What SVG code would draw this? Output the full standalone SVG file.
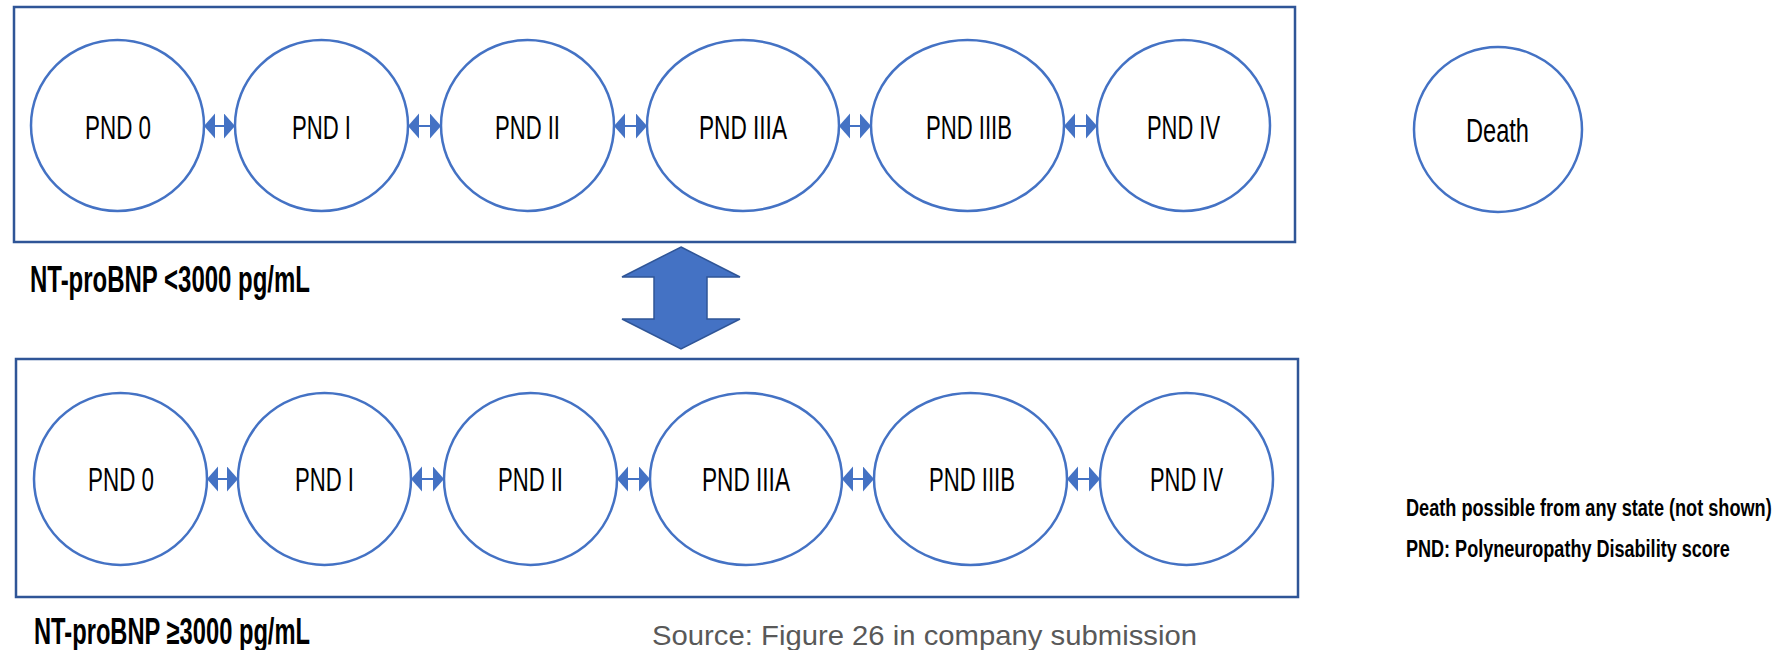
<svg xmlns="http://www.w3.org/2000/svg" width="1787" height="650" viewBox="0 0 1787 650">
<style>
.box{fill:none;stroke:#2F5597;stroke-width:2.5}
.st{fill:#fff;stroke:#4472C4;stroke-width:2.5}
.lbl{font-family:"Liberation Sans",Arial,sans-serif;font-size:33px;fill:#000;text-anchor:middle}
.grp{font-family:"Liberation Sans",Arial,sans-serif;font-size:36px;font-weight:bold;fill:#000}
.leg{font-family:"Liberation Sans",Arial,sans-serif;font-size:23px;font-weight:bold;fill:#000}
.src{font-family:"Liberation Sans",Arial,sans-serif;font-size:28px;fill:#595959}
.con{stroke:#4472C4;stroke-width:2;fill:none;marker-start:url(#ah);marker-end:url(#ah)}
</style>
<defs>
<marker id="ah" markerUnits="userSpaceOnUse" markerWidth="12" markerHeight="26" refX="11" refY="12.5" orient="auto-start-reverse">
<path d="M0,0 L11,12.5 L0,25 z" fill="#4472C4"/>
</marker>
</defs>
<rect width="1787" height="650" fill="#fff"/>

<g id="box-low">
<rect class="box" x="14" y="7" width="1281" height="235"/>
<text class="grp" x="30" y="292" textLength="280" lengthAdjust="spacingAndGlyphs">NT-proBNP &lt;3000 pg/mL</text>
</g>
<g id="box-high">
<rect class="box" x="16" y="359" width="1282" height="238"/>
<text class="grp" x="34" y="644" textLength="276" lengthAdjust="spacingAndGlyphs">NT-proBNP ≥3000 pg/mL</text>
</g>

<g id="connectors">
<line class="con" x1="204" y1="126" x2="235" y2="126"/>
<line class="con" x1="408" y1="126" x2="441" y2="126"/>
<line class="con" x1="614" y1="126" x2="647" y2="126"/>
<line class="con" x1="839" y1="126" x2="871" y2="126"/>
<line class="con" x1="1064" y1="126" x2="1097" y2="126"/>
<line class="con" x1="207" y1="479" x2="238" y2="479"/>
<line class="con" x1="411" y1="479" x2="444" y2="479"/>
<line class="con" x1="617" y1="479" x2="650" y2="479"/>
<line class="con" x1="842" y1="479" x2="874" y2="479"/>
<line class="con" x1="1067" y1="479" x2="1100" y2="479"/>
<path id="big-arrow" d="M681,247 L740,277 L707,277 L707,319 L740,319 L681,349 L622,319 L654,319 L654,277 L622,277 Z" fill="#4472C4" stroke="#2F5597" stroke-width="1.5" stroke-linejoin="miter"/>
</g>

<g id="low-pnd0"><ellipse class="st" cx="117.5" cy="125.5" rx="86.5" ry="85.5"/><text class="lbl" x="118" y="139" textLength="66" lengthAdjust="spacingAndGlyphs">PND 0</text></g>
<g id="low-pnd1"><ellipse class="st" cx="321.5" cy="125.5" rx="86.5" ry="85.5"/><text class="lbl" x="321.5" y="139" textLength="59" lengthAdjust="spacingAndGlyphs">PND I</text></g>
<g id="low-pnd2"><ellipse class="st" cx="527.5" cy="125.5" rx="86.5" ry="85.5"/><text class="lbl" x="527.5" y="139" textLength="65" lengthAdjust="spacingAndGlyphs">PND II</text></g>
<g id="low-pnd3a"><ellipse class="st" cx="743" cy="125.5" rx="96" ry="85.5"/><text class="lbl" x="743" y="139" textLength="88" lengthAdjust="spacingAndGlyphs">PND IIIA</text></g>
<g id="low-pnd3b"><ellipse class="st" cx="967.5" cy="125.5" rx="96.5" ry="85.5"/><text class="lbl" x="969" y="139" textLength="86" lengthAdjust="spacingAndGlyphs">PND IIIB</text></g>
<g id="low-pnd4"><ellipse class="st" cx="1183.5" cy="125.5" rx="86.5" ry="85.5"/><text class="lbl" x="1183.5" y="139" textLength="73" lengthAdjust="spacingAndGlyphs">PND IV</text></g>

<g id="high-pnd0"><ellipse class="st" cx="120.5" cy="479" rx="86.5" ry="86"/><text class="lbl" x="121" y="491" textLength="66" lengthAdjust="spacingAndGlyphs">PND 0</text></g>
<g id="high-pnd1"><ellipse class="st" cx="324.5" cy="479" rx="86.5" ry="86"/><text class="lbl" x="324.5" y="491" textLength="59" lengthAdjust="spacingAndGlyphs">PND I</text></g>
<g id="high-pnd2"><ellipse class="st" cx="530.5" cy="479" rx="86.5" ry="86"/><text class="lbl" x="530.5" y="491" textLength="65" lengthAdjust="spacingAndGlyphs">PND II</text></g>
<g id="high-pnd3a"><ellipse class="st" cx="746" cy="479" rx="96" ry="86"/><text class="lbl" x="746" y="491" textLength="88" lengthAdjust="spacingAndGlyphs">PND IIIA</text></g>
<g id="high-pnd3b"><ellipse class="st" cx="970.5" cy="479" rx="96.5" ry="86"/><text class="lbl" x="972" y="491" textLength="86" lengthAdjust="spacingAndGlyphs">PND IIIB</text></g>
<g id="high-pnd4"><ellipse class="st" cx="1186.5" cy="479" rx="86.5" ry="86"/><text class="lbl" x="1186.5" y="491" textLength="73" lengthAdjust="spacingAndGlyphs">PND IV</text></g>

<g id="death"><ellipse class="st" cx="1498" cy="129.5" rx="84" ry="82.5"/><text class="lbl" x="1497.5" y="142" font-size="31" textLength="63" lengthAdjust="spacingAndGlyphs">Death</text></g>

<g id="legend">
<text class="leg" transform="translate(1406,516) scale(0.665,1)" x="0" y="0" textLength="550" lengthAdjust="spacingAndGlyphs">Death possible from any state (not shown)</text>
<text class="leg" transform="translate(1406,557) scale(0.665,1)" x="0" y="0" textLength="487" lengthAdjust="spacingAndGlyphs">PND: Polyneuropathy Disability score</text>
</g>
<text id="source" class="src" x="652" y="645" textLength="545" lengthAdjust="spacingAndGlyphs">Source: Figure 26 in company submission</text>
</svg>
